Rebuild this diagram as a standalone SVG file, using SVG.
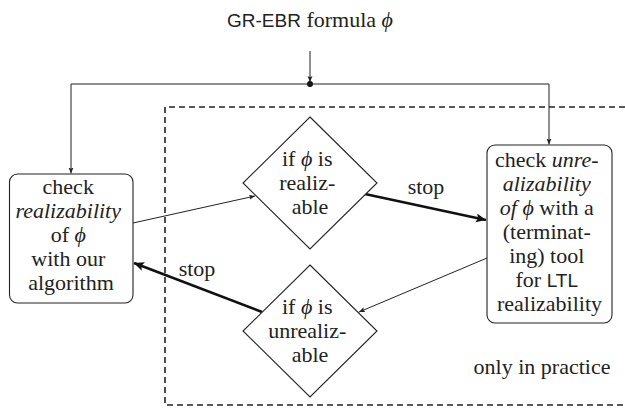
<svg xmlns="http://www.w3.org/2000/svg" width="625" height="411" viewBox="0 0 625 411">
<style>
  .node { fill: #fff; stroke: #222; stroke-width: 1.1; }
  .thin { fill: none; stroke: #222; stroke-width: 1; }
  .thick { fill: none; stroke: #111; stroke-width: 2.6; }
  .dash { fill: none; stroke: #222; stroke-width: 1.6; stroke-dasharray: 6 4; }
</style>
<defs>
  <marker id="ah" markerUnits="userSpaceOnUse" markerWidth="10" markerHeight="10" refX="6" refY="2.5" orient="auto">
    <path d="M0,0 L6,2.5 L0,5 L1.2,2.5 z" fill="#222"/>
  </marker>
  <marker id="ahb" markerUnits="userSpaceOnUse" markerWidth="14" markerHeight="14" refX="10" refY="4.5" orient="auto">
    <path d="M0,0 L10,4.5 L0,9 L2,4.5 z" fill="#111"/>
  </marker>
</defs>

<g id="title">
  <text x="310" y="27" text-anchor="middle" font-family="serif" font-size="22" fill="#222"><tspan font-family="Liberation Sans" font-size="19">GR-EBR</tspan> formula <tspan font-style="italic">ϕ</tspan></text>
</g>

<g id="region">
  <path class="dash" d="M625,107 H165 V405 H625"/>
  <text x="542" y="374" text-anchor="middle" font-family="serif" font-size="22" fill="#222">only in practice</text>
</g>

<g id="connectors">
  <line class="thin" x1="310" y1="51" x2="310" y2="82" marker-end="url(#ah)"/>
  <circle cx="310" cy="84" r="3" fill="#111"/>
  <path class="thin" d="M310,84 H71 V173.5" marker-end="url(#ah)"/>
  <path class="thin" d="M310,84 H549 V144.5" marker-end="url(#ah)"/>
  <line class="thin" x1="133" y1="223" x2="255" y2="196" marker-end="url(#ah)"/>
  <line class="thick" x1="365" y1="194" x2="486" y2="220" marker-end="url(#ahb)"/>
  <line class="thin" x1="487" y1="258" x2="359" y2="312" marker-end="url(#ah)"/>
  <line class="thick" x1="262" y1="312" x2="134" y2="263" marker-end="url(#ahb)"/>
  <text x="426" y="194" text-anchor="middle" font-family="serif" font-size="22" fill="#222">stop</text>
  <text x="197" y="276" text-anchor="middle" font-family="serif" font-size="22" fill="#222">stop</text>
</g>

<g id="check-realizability">
  <rect class="node" x="9.5" y="174" width="123.5" height="129" rx="8"/>
  <text text-anchor="middle" font-family="serif" font-size="22" fill="#222">
    <tspan x="71" y="194">check</tspan>
    <tspan x="71" y="218" font-style="italic">realizability</tspan>
    <tspan x="71" y="242">of <tspan font-style="italic">ϕ</tspan></tspan>
    <tspan x="71" y="266">with our</tspan>
    <tspan x="71" y="290">algorithm</tspan>
  </text>
</g>

<g id="if-realizable">
  <polygon class="node" points="310,117 377,183 310,249 243,183"/>
  <text text-anchor="middle" font-family="serif" font-size="22" fill="#222">
    <tspan x="310" y="166">if <tspan font-style="italic">ϕ</tspan> is</tspan>
    <tspan x="310" y="190">realiz-</tspan>
    <tspan x="310" y="214">able</tspan>
  </text>
</g>

<g id="if-unrealizable">
  <polygon class="node" points="310,265 377,331 310,397 243,331"/>
  <text text-anchor="middle" font-family="serif" font-size="22" fill="#222">
    <tspan x="310" y="314">if <tspan font-style="italic">ϕ</tspan> is</tspan>
    <tspan x="310" y="338">unrealiz-</tspan>
    <tspan x="310" y="362">able</tspan>
  </text>
</g>

<g id="check-unrealizability">
  <rect class="node" x="487" y="145" width="125" height="178" rx="8"/>
  <text text-anchor="middle" font-family="serif" font-size="22" fill="#222">
    <tspan x="549.5" y="167">check <tspan font-style="italic">unre-</tspan></tspan>
    <tspan x="549.5" y="191" font-style="italic">alizability</tspan>
    <tspan x="549.5" y="215"><tspan font-style="italic">of ϕ</tspan> with a</tspan>
    <tspan x="549.5" y="239">(terminat-</tspan>
    <tspan x="549.5" y="263">ing) tool</tspan>
    <tspan x="549.5" y="287">for <tspan font-family="Liberation Sans" font-size="19">LTL</tspan></tspan>
    <tspan x="549.5" y="311">realizability</tspan>
  </text>
</g>
</svg>
